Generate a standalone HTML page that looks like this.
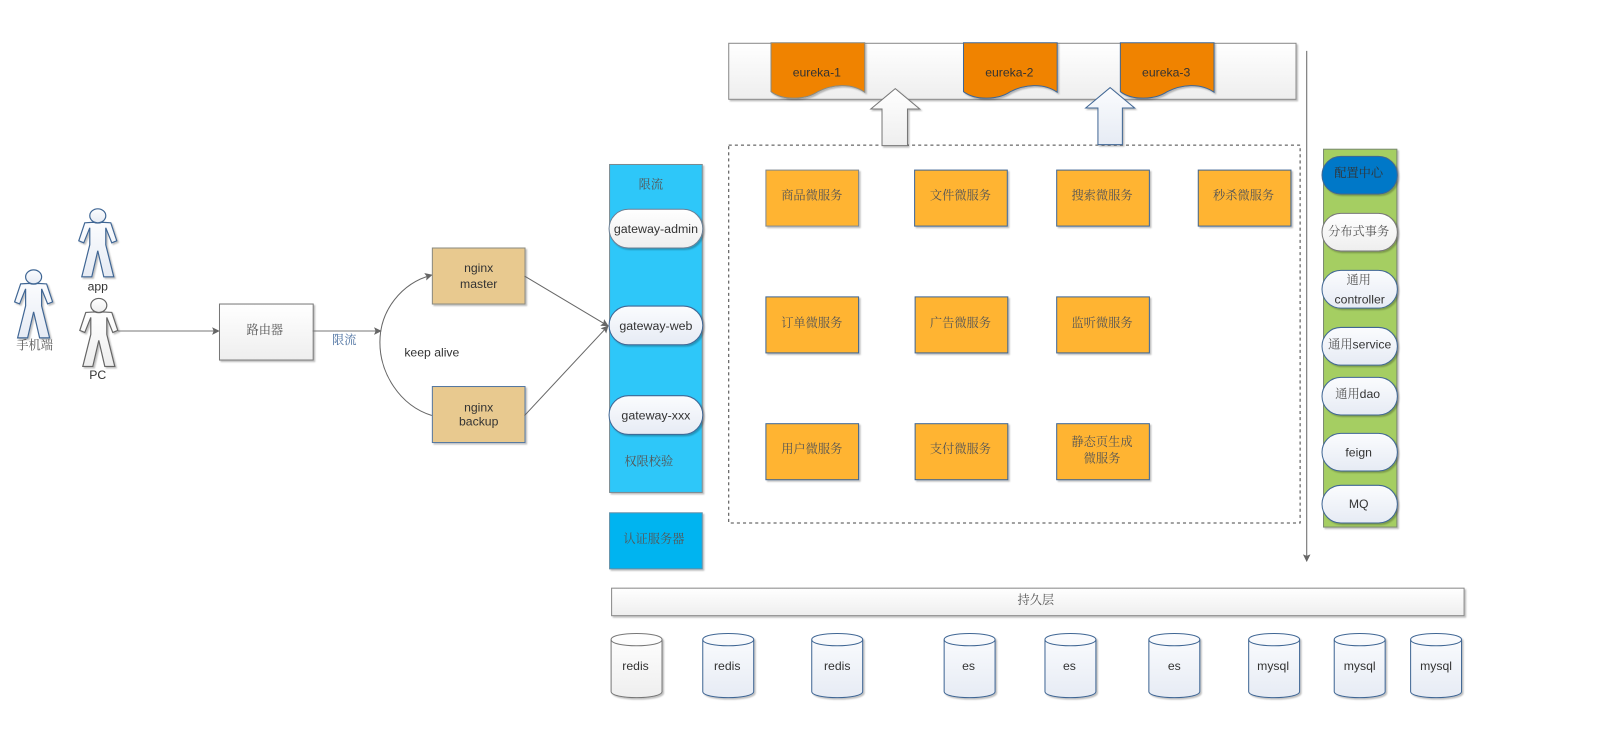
<!DOCTYPE html>
<html><head><meta charset="utf-8">
<style>
html,body{margin:0;padding:0;background:#fff;width:1597px;height:731px;overflow:hidden}
svg{display:block;filter:blur(0.3px)}
text{font-family:"Liberation Sans","Noto Serif CJK SC",sans-serif;font-size:12px;fill:#333;text-anchor:middle}
.c{font-family:"Noto Serif CJK SC","Liberation Sans",serif;font-size:12px;fill:#555}
.g{font-size:12.2px}
</style></head><body>
<svg width="1597" height="731" viewBox="0 0 1568 717.730" xmlns="http://www.w3.org/2000/svg">
<defs>
<linearGradient id="w" x1="0" y1="0" x2="0" y2="1"><stop offset="0" stop-color="#fff"/><stop offset="1" stop-color="#eee"/></linearGradient>
<linearGradient id="b" x1="0" y1="0" x2="0" y2="1"><stop offset="0" stop-color="#fbfcfe"/><stop offset="1" stop-color="#e6ebf4"/></linearGradient>
<filter id="s" x="-10%" y="-10%" width="125%" height="125%"><feDropShadow dx="1.500" dy="1.500" stdDeviation="0.800" flood-color="#000" flood-opacity="0.250"/></filter>
<marker id="a" viewBox="0 0 10 10" refX="9" refY="5" markerWidth="7.500" markerHeight="7.500" markerUnits="userSpaceOnUse" orient="auto"><path d="M0 0L10 5L0 10L2 5Z" fill="#666"/></marker>
<g id="cyl"><path d="M0 6C0 -2 50 -2 50 6V57C50 65 0 65 0 57Z" filter="url(#s)"/><path d="M0 6C0 14 50 14 50 6" fill="none"/></g>
<path id="doc" d="M0 0H92V48.500C78 39 60 41 46 48C34 56 12 57 0 48Z" fill="#F08300" filter="url(#s)"/>
<g id="man" transform="scale(.982)"><path d="M-13 14L-4 13.500Q0 15 4 13.500L13 14L19 32L14 34L8 19L8 36L16 68L6 68L0 42L-6 68L-16 68L-8 36L-8 19L-14 34L-19 32Z" filter="url(#s)"/><ellipse cx="0" cy="7" rx="8" ry="7"/></g>
</defs>

<!-- people -->
<g transform="translate(96,205)" fill="url(#b)" stroke="#3F6694" stroke-width="1.200"><use href="#man"/></g>
<text x="96" y="285">app</text>
<g transform="translate(33,265)" fill="url(#b)" stroke="#3F6694" stroke-width="1.200"><use href="#man"/></g>
<text class="c" x="34" y="343">手机端</text>
<g transform="translate(97,293)" fill="url(#w)" stroke="#666" stroke-width="1.200"><use href="#man"/></g>
<text x="96" y="372">PC</text>

<!-- router and links -->
<line x1="116" y1="325" x2="215" y2="325" stroke="#777" stroke-width="1" marker-end="url(#a)"/>
<rect x="215.500" y="298.500" width="92" height="55" fill="url(#w)" stroke="#777" filter="url(#s)"/>
<text class="c" x="260" y="328">路由器</text>
<line x1="307" y1="325" x2="374" y2="325" stroke="#777" stroke-width="1" marker-end="url(#a)"/>
<text class="c" x="338" y="338" style="fill:#4a6f9f">限流</text>
<path d="M424 408C392 398 373 366 373 336C373 305 394 278 424 270" fill="none" stroke="#666" stroke-width="1" marker-end="url(#a)"/>
<text x="424" y="350">keep alive</text>

<!-- nginx -->
<rect x="424.500" y="243.500" width="91" height="55" fill="#E8C98F" stroke="#8a8a80" filter="url(#s)"/>
<text x="470" y="267">nginx</text><text x="470" y="283">master</text>
<rect x="424.500" y="379.500" width="91" height="55" fill="#E8C98F" stroke="#5577a0" filter="url(#s)"/>
<text x="470" y="404">nginx</text><text x="470" y="418">backup</text>
<line x1="515" y1="271" x2="597" y2="320" stroke="#666" marker-end="url(#a)"/>
<line x1="515" y1="408" x2="597" y2="320" stroke="#666" marker-end="url(#a)"/>

<!-- gateway -->
<rect x="598.500" y="161.500" width="91" height="322" fill="#2EC7F9" stroke="#7a8a90" filter="url(#s)"/>
<text class="c" x="639" y="185">限流</text>
<g fill="url(#w)" stroke="#6b7f95">
<rect x="598" y="205.500" width="92" height="38" rx="19" filter="url(#s)"/>
</g>
<g fill="url(#b)" stroke="#3F6694">
<rect x="598" y="300.500" width="92" height="38" rx="19" filter="url(#s)"/>
<rect x="598" y="388.500" width="92" height="38" rx="19" filter="url(#s)"/>
</g>
<text class="g" x="644" y="229">gateway-admin</text>
<text class="g" x="644" y="324">gateway-web</text>
<text class="g" x="644" y="412">gateway-xxx</text>
<text class="c" x="637" y="457">权限校验</text>
<rect x="598.500" y="503.500" width="91" height="55" fill="#00B4F0" stroke="#5f8fa8" filter="url(#s)"/>
<text class="c" x="642" y="533">认证服务器</text>

<!-- eureka -->
<rect x="715.500" y="42.500" width="557" height="55" fill="url(#w)" stroke="#888" filter="url(#s)"/>
<g stroke="#8a8a80"><use href="#doc" x="757" y="42"/></g>
<g stroke="#3F6694"><use href="#doc" x="946" y="42"/><use href="#doc" x="1100" y="42"/></g>
<text x="802" y="75">eureka-1</text>
<text x="991" y="75">eureka-2</text>
<text x="1145" y="75">eureka-3</text>

<!-- dashed container -->
<rect x="715.500" y="142.500" width="561" height="371" fill="none" stroke="#444" stroke-dasharray="3 3"/>

<!-- up arrows -->
<path d="M879 87L903 107H891V143H866V107H855Z" fill="url(#w)" stroke="#777" filter="url(#s)"/>
<path d="M1090 86L1114 106H1102V142H1078V106H1066Z" fill="url(#b)" stroke="#3F6694" filter="url(#s)"/>

<!-- services -->
<g fill="#FFB431" filter="url(#s)">
<rect x="752" y="167" width="91" height="55" stroke="#7f8890"/>
<rect x="898" y="167" width="91" height="55" stroke="#3F6694"/>
<rect x="1037.500" y="167" width="91" height="55" stroke="#3F6694"/>
<rect x="1176.500" y="167" width="91" height="55" stroke="#3F6694"/>
<rect x="752" y="291.500" width="91" height="55" stroke="#3F6694"/>
<rect x="898.500" y="291.500" width="91" height="55" stroke="#3F6694"/>
<rect x="1037.500" y="291.500" width="91" height="55" stroke="#3F6694"/>
<rect x="752" y="416" width="91" height="55" stroke="#3F6694"/>
<rect x="898.500" y="416" width="91" height="55" stroke="#3F6694"/>
<rect x="1037.500" y="416" width="91" height="55" stroke="#3F6694"/>
</g>
<text class="c" x="797" y="196">商品微服务</text>
<text class="c" x="943" y="196">文件微服务</text>
<text class="c" x="1082" y="196">搜索微服务</text>
<text class="c" x="1221" y="196">秒杀微服务</text>
<text class="c" x="797" y="321">订单微服务</text>
<text class="c" x="943" y="321">广告微服务</text>
<text class="c" x="1082" y="321">监听微服务</text>
<text class="c" x="797" y="445">用户微服务</text>
<text class="c" x="943" y="445">支付微服务</text>
<text class="c" x="1082" y="438">静态页生成</text>
<text class="c" x="1082" y="454">微服务</text>

<!-- vertical arrow -->
<line x1="1283" y1="50" x2="1283" y2="551" stroke="#666" stroke-width="1" marker-end="url(#a)"/>

<!-- green panel -->
<rect x="1299.500" y="146.500" width="72" height="371" fill="#A5CE62" stroke="#7a8a70" filter="url(#s)"/>
<rect x="1298" y="153.500" width="74" height="37" rx="18.500" fill="#0078C8" stroke="#3F6694" filter="url(#s)"/>
<rect x="1298" y="209.500" width="74" height="37" rx="18.500" fill="url(#w)" stroke="#777" filter="url(#s)"/>
<g fill="url(#b)" stroke="#3F6694">
<rect x="1298" y="265.500" width="74" height="37" rx="18.500" filter="url(#s)"/>
<rect x="1298" y="321.500" width="74" height="37" rx="18.500" filter="url(#s)"/>
<rect x="1298" y="370.500" width="74" height="37" rx="18.500" filter="url(#s)"/>
<rect x="1298" y="425.500" width="74" height="37" rx="18.500" filter="url(#s)"/>
<rect x="1298" y="476.500" width="74" height="37" rx="18.500" filter="url(#s)"/>
</g>
<text class="c" x="1334" y="174" style="fill:#333">配置中心</text>
<text class="c" x="1334" y="231">分布式事务</text>
<text class="c" x="1334" y="279">通用</text>
<text x="1335" y="298">controller</text>
<text x="1335" y="342"><tspan class="c">通用</tspan>service</text>
<text x="1333" y="391"><tspan class="c">通用</tspan>dao</text>
<text x="1334" y="448">feign</text>
<text x="1334" y="499">MQ</text>

<!-- persistence -->
<rect x="600.500" y="577.500" width="837" height="27" fill="url(#w)" stroke="#888" filter="url(#s)"/>
<text class="c" x="1017" y="593">持久层</text>

<g fill="url(#w)" stroke="#777"><use href="#cyl" x="600" y="622"/></g>
<g fill="url(#b)" stroke="#3F6694">
<use href="#cyl" x="690" y="622"/><use href="#cyl" x="797" y="622"/><use href="#cyl" x="927" y="622"/>
<use href="#cyl" x="1026" y="622"/><use href="#cyl" x="1128" y="622"/><use href="#cyl" x="1226" y="622"/>
<use href="#cyl" x="1310" y="622"/><use href="#cyl" x="1385" y="622"/>
</g>
<text x="624" y="658">redis</text><text x="714" y="658">redis</text><text x="822" y="658">redis</text>
<text x="951" y="658">es</text><text x="1050" y="658">es</text><text x="1153" y="658">es</text>
<text x="1250" y="658">mysql</text><text x="1335" y="658">mysql</text><text x="1410" y="658">mysql</text>
</svg>
</body></html>
